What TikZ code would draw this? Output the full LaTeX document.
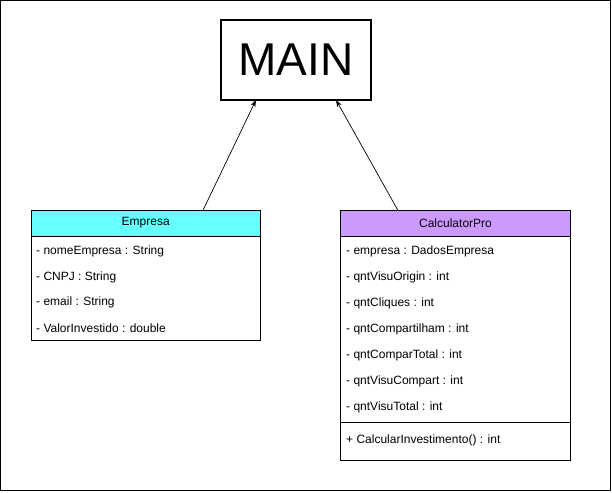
\documentclass[tikz,border=0pt]{standalone}
\usepackage{fontspec}
\setmainfont{Liberation Sans}
\usetikzlibrary{calc,arrows.meta}
\definecolor{empcyan}{HTML}{66FFFF}
\definecolor{calcpurple}{HTML}{CC99FF}
\begin{document}
\begin{tikzpicture}[x=1pt,y=-1pt,
  box/.style={draw=black,line width=1pt,rectangle,inner sep=0pt,outer sep=0pt},
  head/.style={box,font=\fontsize{12}{14}\selectfont},
  row/.style={anchor=west,inner sep=0pt,font=\fontsize{12}{14}\selectfont},
  conn/.style={draw=black,line width=0.7pt,-{Stealth[length=7pt,width=5pt]}}]
\useasboundingbox (0,0) rectangle (612,492);
\node[box,minimum width=610pt,minimum height=490pt] (frame) at (305.5,245.5) {};
% MAIN
\node[box,line width=2pt,minimum width=150pt,minimum height=80pt,font=\fontsize{46}{52}\selectfont] (main) at (296,60) {MAIN};
% Empresa
\node[head,fill=empcyan,minimum width=229.5pt,minimum height=26pt] (emph) at (145.75,223) {Empresa};
\node[box,minimum width=229.5pt,minimum height=104pt] (empb) at (145.75,288) {};
\node[row] (e1) at (36,251) {- nomeEmpresa : String};
\node[row] (e2) at (36,277) {- CNPJ : String};
\node[row] (e3) at (36,302.5) {- email : String};
\node[row] (e4) at (36,328) {- ValorInvestido : double};
% CalculatorPro
\node[head,fill=calcpurple,minimum width=230pt,minimum height=25.5pt] (calch) at (455.5,223.25) {CalculatorPro};
\node[box,minimum width=230pt,minimum height=186pt] (calcb) at (455.5,329) {};
\node[box,minimum width=230pt,minimum height=38.5pt] (calcm) at (455.5,441.25) {};
\node[row] (c1) at (346,251) {- empresa : DadosEmpresa};
\node[row] (c2) at (346,277) {- qntVisuOrigin : int};
\node[row] (c3) at (346,303) {- qntCliques : int};
\node[row] (c4) at (346,329) {- qntCompartilham : int};
\node[row] (c5) at (346,355) {- qntComparTotal : int};
\node[row] (c6) at (346,381) {- qntVisuCompart : int};
\node[row] (c7) at (346,407) {- qntVisuTotal : int};
\node[row] (m1) at (346,440) {+ CalcularInvestimento() : int};
% connectors
\draw[conn] ($(emph.north west)!0.75!(emph.north east)$) -- ($(main.south west)!0.233!(main.south east)$);
\draw[conn] ($(calch.north west)!0.25!(calch.north east)$) -- ($(main.south west)!0.767!(main.south east)$);
\end{tikzpicture}
\end{document}
